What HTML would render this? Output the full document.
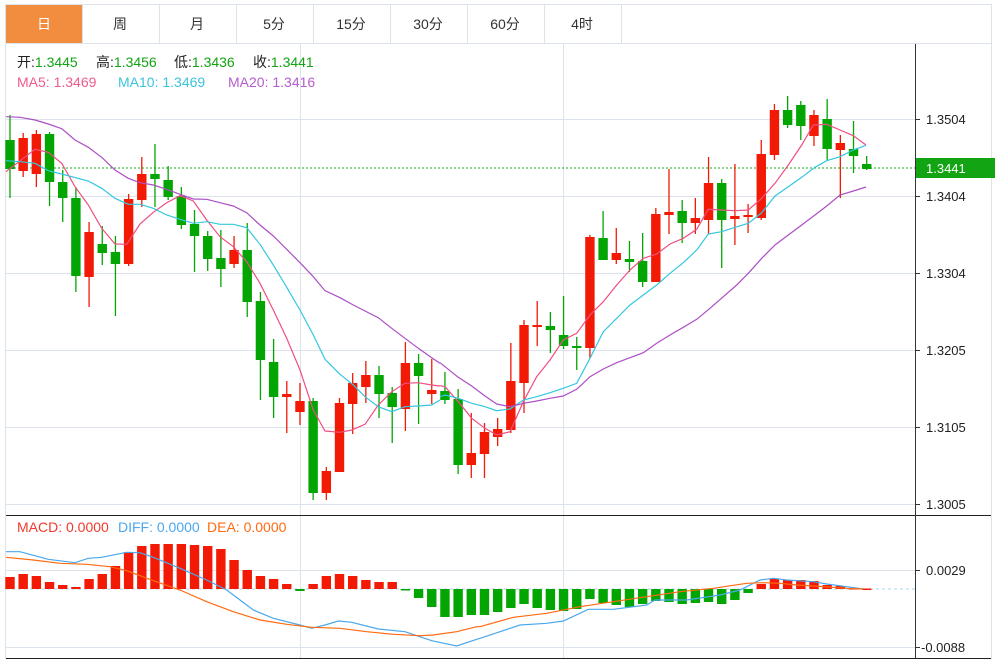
<!DOCTYPE html>
<html><head><meta charset="utf-8"><style>
body{margin:0;background:#fff;width:1006px;height:660px;overflow:hidden;font-family:"Liberation Sans","Noto Sans CJK SC",sans-serif;}
</style></head><body>
<svg id="s" width="1006" height="660" xmlns="http://www.w3.org/2000/svg" style="position:absolute;left:0;top:0">
<rect x="0" y="0" width="1006" height="660" fill="#fff"/>
<rect x="5.5" y="4.5" width="986" height="654" fill="none" stroke="#dde3ea"/>
<rect x="6" y="5" width="76" height="38" fill="#f28c3f"/>
<g font-size="14" fill="#333" text-anchor="middle" font-family="Liberation Sans, Noto Sans CJK SC, sans-serif">
<text x="44" y="29" fill="#fff">日</text>
<text x="120" y="29">周</text><text x="197" y="29">月</text><text x="274" y="29">5分</text>
<text x="351" y="29">15分</text><text x="428" y="29">30分</text><text x="505" y="29">60分</text><text x="582" y="29">4时</text>
</g>
<g stroke="#dde3ea">
<line x1="82.5" y1="5" x2="82.5" y2="43"/><line x1="159.5" y1="5" x2="159.5" y2="43"/><line x1="236.5" y1="5" x2="236.5" y2="43"/>
<line x1="313.5" y1="5" x2="313.5" y2="43"/><line x1="390.5" y1="5" x2="390.5" y2="43"/><line x1="467.5" y1="5" x2="467.5" y2="43"/>
<line x1="544.5" y1="5" x2="544.5" y2="43"/><line x1="621.5" y1="5" x2="621.5" y2="43"/>
<line x1="6" y1="43.5" x2="991" y2="43.5"/>
<line x1="300.5" y1="44" x2="300.5" y2="658"/><line x1="563.5" y1="44" x2="563.5" y2="658"/>
<line x1="6" y1="119.5" x2="915" y2="119.5"/><line x1="6" y1="196.5" x2="915" y2="196.5"/><line x1="6" y1="273.5" x2="915" y2="273.5"/>
<line x1="6" y1="350.5" x2="915" y2="350.5"/><line x1="6" y1="427.5" x2="915" y2="427.5"/><line x1="6" y1="504.5" x2="915" y2="504.5"/>
<line x1="6" y1="570.5" x2="915" y2="570.5"/><line x1="6" y1="647.5" x2="915" y2="647.5"/>
</g>
<line x1="6" y1="515.5" x2="991" y2="515.5" stroke="#222"/>
<line x1="6" y1="658.5" x2="991" y2="658.5" stroke="#222"/>
<line x1="915.5" y1="44" x2="915.5" y2="658" stroke="#333"/>
<g id="ticks" stroke="#333"></g>
<g font-size="13" fill="#222">
<text x="926" y="124">1.3504</text><text x="926" y="201">1.3404</text><text x="926" y="278">1.3304</text>
<text x="926" y="355">1.3205</text><text x="926" y="432">1.3105</text><text x="926" y="509">1.3005</text>
<text x="926" y="575">0.0029</text><text x="921" y="652">-0.0088</text>
</g>
<line x1="6" y1="168" x2="915" y2="168" stroke="#1aab1a" stroke-dasharray="2,2"/>
<line x1="6" y1="589" x2="915" y2="589" stroke="#a8d8f0" stroke-dasharray="3,3"/>
<rect x="916" y="158" width="79" height="20" fill="#13a413"/>
<text x="926" y="173" font-size="13" fill="#fff">1.3441</text>
<g id="g"></g>
<g font-size="14" font-family="Liberation Sans, Noto Sans CJK SC, sans-serif">
<text x="17" y="67" fill="#222">开:<tspan fill="#13a413">1.3445</tspan></text>
<text x="96" y="67" fill="#222">高:<tspan fill="#13a413">1.3456</tspan></text>
<text x="174" y="67" fill="#222">低:<tspan fill="#13a413">1.3436</tspan></text>
<text x="253" y="67" fill="#222">收:<tspan fill="#13a413">1.3441</tspan></text>
<text x="17" y="87" fill="#ef5b8a">MA5: 1.3469</text><text x="118" y="87" fill="#3cc4dc">MA10: 1.3469</text><text x="228" y="87" fill="#b75ccc">MA20: 1.3416</text>
<text x="17" y="532" fill="#f0392b">MACD: 0.0000</text><text x="118" y="532" fill="#4aa8ee">DIFF: 0.0000</text><text x="207" y="532" fill="#ff6a10">DEA: 0.0000</text>
</g>
</svg>
<script>
var C=[[0,140,169,115,198],[1,138,171,133,177],[1,134,174,130,187],[0,134,182,132,206],[0,182,198,170,222],[0,198,276,187,292],[1,232,277,222,307],[0,244,253,226,265],[0,252,264,236,316],[1,199,264,194,266],[1,174,200,157,207],[0,174,179,144,207],[0,180,197,166,200],[0,196,225,187,229],[0,224,236,210,272],[0,236,259,231,271],[0,258,269,230,287],[1,250,264,236,268],[0,250,302,223,317],[0,301,360,292,400],[0,362,397,339,418],[1,394,397,381,433],[1,401,412,383,425],[0,401,493,398,500],[1,471,493,467,500],[1,403,472,398,472],[1,383,404,373,434],[1,375,387,361,403],[0,375,394,366,418],[0,393,407,387,443],[1,363,409,342,431],[0,363,376,354,424],[1,390,394,359,404],[0,391,400,372,404],[0,399,465,389,474],[1,453,465,413,478],[1,432,454,423,478],[1,429,437,418,446],[1,381,430,343,433],[1,325,383,320,413],[1,325,327,301,346],[0,326,330,312,353],[0,335,346,296,349],[0,346,348,337,370],[1,237,348,235,358],[0,238,260,211,260],[1,253,260,228,264],[0,259,262,241,272],[0,261,282,233,287],[1,214,282,208,282],[1,212,215,169,234],[0,211,223,200,243],[1,218,223,198,234],[1,183,220,157,234],[0,183,220,179,268],[1,216,219,164,245],[1,215,217,204,233],[1,154,218,140,220],[1,110,155,104,160],[0,110,125,96,128],[0,105,126,101,140],[1,115,136,110,146],[0,119,149,99,160],[1,143,150,135,198],[0,149,156,121,173],[0,164,169,156,170]];
var M=[577,574,576,582,585,587,579,574,566,552,546,544,544,544,545,546,549,560,570,576,579,584,591,584,576,574,576,580,582,582,590,598,607,617,617,615,615,612,608,604,608,610,611,609,599,603,605,607,604,601,602,604,603,602,604,600,593,584,579,580,580,581,585,586,588,588.5];
var h='';function X(i){return 10+13.18*i;}
var RED='#f21a05',GRN='#03a503';
for(var i=0;i<C.length;i++){var c=C[i],x=X(i),col=c[0]?RED:GRN;
h+='<line x1="'+x+'" y1="'+c[3]+'" x2="'+x+'" y2="'+c[4]+'" stroke="'+col+'" stroke-width="1.3"/>';
var t=Math.min(c[1],c[2]),b=Math.max(c[1],c[2]);if(b-t<2)b=t+2;
h+='<rect x="'+(x-4.7)+'" y="'+t+'" width="9.4" height="'+(b-t)+'" fill="'+col+'"/>';}
for(var i=0;i<M.length;i++){var x=X(i),v=M[i],col=v<589?RED:GRN,t=Math.min(v,589),b=Math.max(v,589);if(b-t<1.5)b=t+1.5;
h+='<rect x="'+(x-4.7)+'" y="'+t+'" width="9.4" height="'+(b-t)+'" fill="'+col+'"/>';}
function P(a,ox,oy,col){var s='';for(var i=0;i<a.length;i+=2){s+=(ox+a[i]/3).toFixed(1)+','+(oy+a[i+1]/3).toFixed(1)+' ';}
return '<polyline points="'+s+'" fill="none" stroke="'+col+'" stroke-width="1.2"/>';}
var PK='#ef4f83',CY='#33c7df',PU='#ac4fc4',BL='#4aa8ee',OR='#ff6a10';
h+=P([18,215,105,148,145,157,185,190,225,260,265,315,305,385,345,432,380,433,420,372,460,337,500,308,540,287,580,303,620,360,660,410,700,440,740,485,780,550,820,630,860,715,900,810,940,930,975,993,1020,997,1055,990,1095,973,1135,915,1175,875,1215,850,1255,848,1295,855,1320,858],0,100,PK);
h+=P([0,887,15,890,55,935,95,985,135,1015,170,1035,210,1025,250,935,290,860,330,810,370,750,410,730,450,675,490,635,530,585,570,540,610,505,650,492,690,462,730,445,770,418,805,358,845,360,885,362,925,360,965,325,1005,280,1045,225,1085,165,1120,105,1160,103,1200,120,1240,137,1278,165],440,90,PK);
h+=P([18,182,60,185,105,190,145,212,185,222,265,243,305,265,345,295,385,313,420,313,460,325,500,345,540,358,580,370,620,365,660,373,700,373,740,383,780,433,820,495,860,562,900,630,940,705,975,778,1020,823,1060,855,1095,890,1135,920,1175,935,1215,920,1255,918,1295,915,1320,900],0,100,CY);
h+=P([0,920,15,915,55,925,95,940,135,950,170,962,210,957,250,930,290,920,330,908,370,895,410,880,450,805,490,725,530,685,570,645,610,615,650,585,690,550,730,518,770,480,805,432,845,425,885,412,925,400,965,368,1005,318,1045,290,1085,262,1125,232,1160,212,1200,200,1240,180,1278,166],440,90,CY);
h+=P([18,50,60,52,105,60,145,72,185,86,225,120,265,142,305,172,345,210,385,235,420,248,460,255,500,268,540,283,580,297,620,298,660,308,700,318,740,338,780,375,820,408,860,448,900,488,940,530,975,572,1020,593,1060,615,1095,633,1135,653,1175,685,1215,715,1255,745,1295,773,1320,790],0,100,PU);
h+=P([0,818,55,862,95,888,135,918,170,942,210,950,250,940,290,933,330,925,370,918,410,898,450,860,490,837,530,818,570,803,610,788,650,760,690,735,730,712,770,688,810,655,850,620,890,585,925,550,965,505,1005,465,1045,435,1085,405,1125,375,1160,348,1200,315,1240,303,1278,291],440,90,PU);
h+=P([18,125,60,125,145,148,225,158,265,145,305,142,380,127,420,128,460,142,540,175,620,210,680,240,720,270,760,300,820,325,900,345,935,355,975,345,1015,333,1055,337,1135,357,1215,365,1295,392,1370,408,1430,388,1440,385],0,510,BL);
h+=P([0,385,60,365,120,345,200,340,250,333,325,298,400,298,500,285,525,270,620,270,720,255,780,240,840,210,880,205,920,210,1000,215,1040,222,1100,230,1150,237],480,510,BL);
h+=P([18,142,100,150,180,160,260,163,330,170,380,182,460,212,540,240,620,275,700,305,780,330,860,343,935,352,1020,355,1100,365,1180,373,1260,377,1300,375,1370,365,1430,350,1440,350],0,510,OR);
h+=P([0,350,100,322,200,310,300,290,400,275,500,260,600,245,700,235,800,220,850,218,900,220,950,225,1000,228,1100,235,1150,237],480,510,OR);
document.getElementById('g').innerHTML=h;
var tk='';[119,196,273,350,427,504,570,647].forEach(function(y){tk+='<line x1="915" y1="'+(y+.5)+'" x2="920" y2="'+(y+.5)+'"/>';});
document.getElementById('ticks').innerHTML=tk;
</script>
</body></html>
